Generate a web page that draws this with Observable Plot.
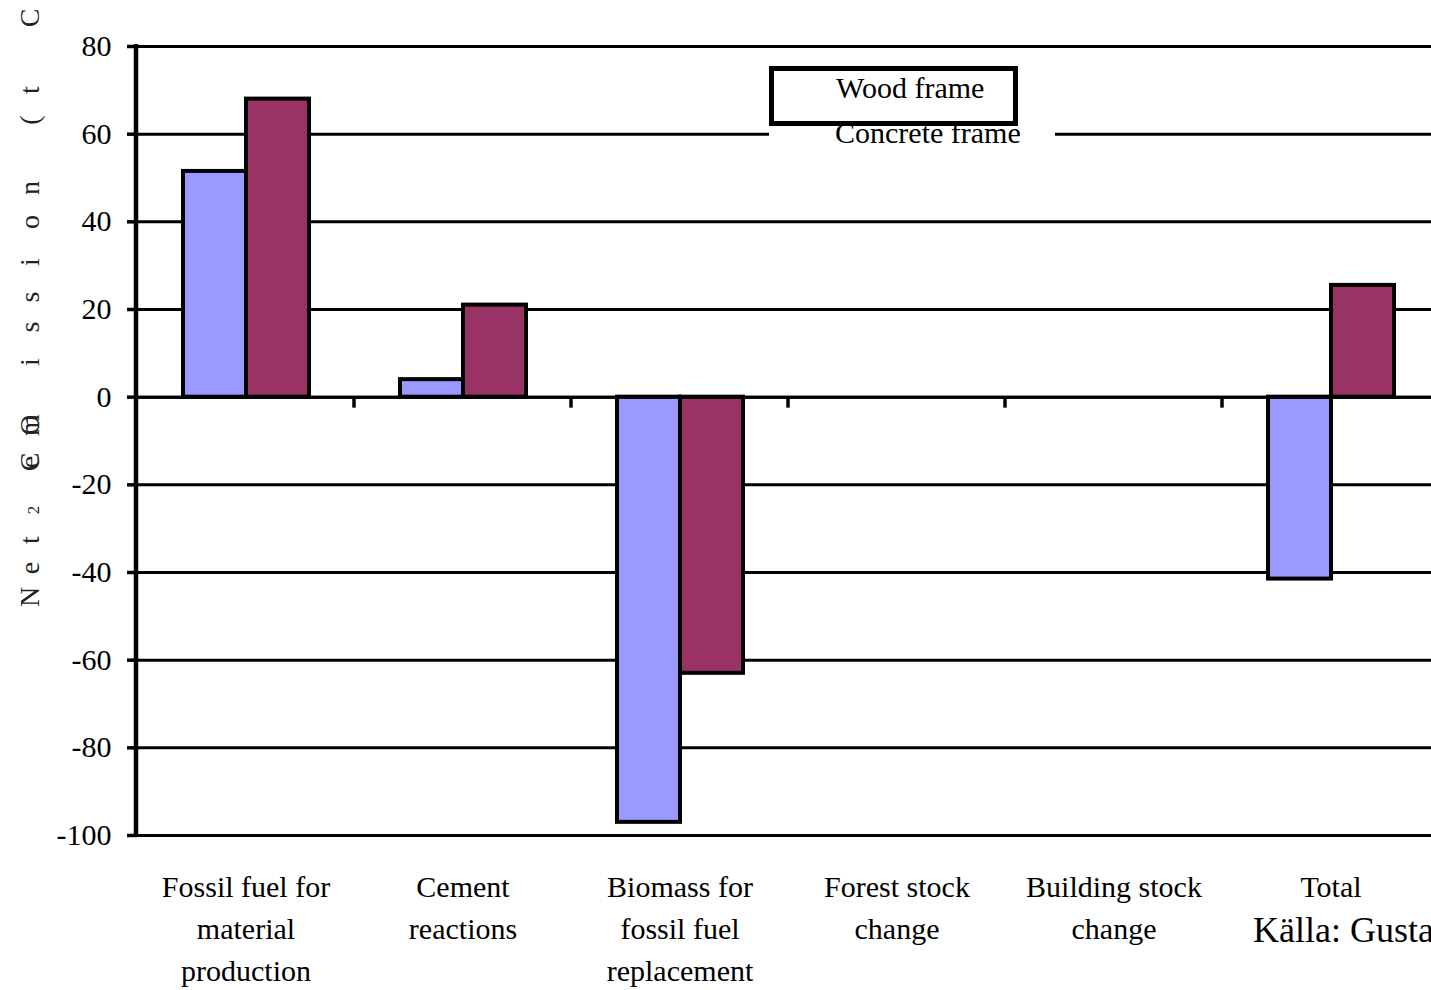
<!DOCTYPE html>
<html><head><meta charset="utf-8">
<script src="https://cdn.jsdelivr.net/npm/d3@7"></script>
<script src="https://cdn.jsdelivr.net/npm/@observablehq/plot@0.6"></script>
<style>
html,body{margin:0;padding:0;overflow:hidden;background:#fff;width:1431px;height:990px}
#wrap{position:relative;width:1460px;height:990px}
#wrap svg{display:block}
#legend{position:absolute;left:769px;top:62px;width:286px;height:88px;background:#fff;font-family:"Liberation Serif",serif;font-size:30px;color:#000}
#legend .conc{position:absolute;left:66px;top:56px;line-height:1;white-space:nowrap}
#legend .box{position:absolute;left:0;top:4px;width:239px;height:50px;border:5px solid #000;background:#fff}
#legend .wood{position:absolute;left:62px;top:2px;line-height:1;white-space:nowrap}
#source{position:absolute;left:1253px;top:912px;font-family:"Liberation Serif",serif;font-size:36px;line-height:1;white-space:nowrap;color:#000}
</style></head><body><div id="wrap"></div>
<script>
const categories = ["Fossil fuel for\nmaterial\nproduction","Cement\nreactions","Biomass for\nfossil fuel\nreplacement","Forest stock\nchange","Building stock\nchange","Total"];
const series = ["Wood frame","Concrete frame"];
const woodValues = [51.5, 4, -97, 0, 0, -41.5];
const concreteValues = [68, 21, -63, 0, 0, 25.5];
const yTicks = [-100, -80, -60, -40, -20, 0, 20, 40, 60, 80];
const seriesColors = ["#9999FF", "#993366"];
const sourceText = "Källa: Gustavsson";
const yLabelChars = [["N",597],["e",568],["t",540],["2",510,true],["C",462],["e",462],["O",425],["m",425],["i",362],["s",327],["s",297],["i",262],["o",222],["n",188],["(",120],["t",90],["C",18]];

const data = categories.flatMap((c, i) => [
  {category: c, series: series[0], value: woodValues[i]},
  {category: c, series: series[1], value: concreteValues[i]}
]);
const grid = categories.flatMap(c => yTicks.map(t => ({category: c, tick: t})));

const plot = Plot.plot({
  width: 1460, height: 990,
  marginLeft: 134, marginRight: 19, marginTop: 46, marginBottom: 155,
  style: {fontFamily: '"Liberation Serif", "Times New Roman", serif', fontSize: "28px", color: "#000", background: "#fff"},
  fx: {domain: categories, padding: 0, label: null},
  x: {domain: series, paddingInner: 0, paddingOuter: 0.71, axis: null},
  y: {domain: [-100, 80], label: null},
  color: {domain: series, range: seriesColors},
  marks: [
    Plot.ruleY(grid, {fx: "category", y: "tick", stroke: "#000", strokeWidth: 3}),
    Plot.barY(data.filter(d => d.value !== 0), {fx: "category", x: "series", y: "value", fill: "series", stroke: "#000", strokeWidth: 4}),
    Plot.ruleY(grid.filter(d => d.tick === 0), {fx: "category", y: "tick", stroke: "#000", strokeWidth: 3}),
    Plot.axisY({ticks: yTicks, tickSize: 10, tickPadding: 16, tickFormat: d => String(d), strokeWidth: 3.5, label: null, fontSize: 30}),
    Plot.axisFx({anchor: "bottom", tickSize: 0, tickPadding: 32, lineHeight: 1.4, fontSize: 30, label: null})
  ]
});
document.getElementById("wrap").appendChild(plot);

const fx = plot.scale("fx"), y = plot.scale("y");
const svg = d3.select(plot);
const x0 = fx.apply(categories[0]);
svg.append("line").attr("x1", x0 - 1).attr("x2", x0 - 1)
  .attr("y1", y.apply(80) - 2).attr("y2", y.apply(-100) + 2)
  .attr("stroke", "#000").attr("stroke-width", 4.5);
categories.slice(1).forEach(c => {
  const xx = fx.apply(c);
  svg.append("line").attr("x1", xx).attr("x2", xx)
    .attr("y1", y.apply(0)).attr("y2", y.apply(0) + 11)
    .attr("stroke", "#000").attr("stroke-width", 3.5);
});
const g = svg.append("g").attr("font-family", '"Liberation Serif", serif').attr("fill", "#222");
yLabelChars.forEach(([ch, yy, small]) => {
  g.append("text").attr("transform", `translate(${small ? 33 : 29},${yy}) rotate(-90)`)
    .attr("text-anchor", "middle").attr("dominant-baseline", "central")
    .attr("font-size", small ? 17 : 28).text(ch);
});

const legend = document.createElement("div");
legend.id = "legend";
legend.innerHTML = `<div class="conc">${series[1]}</div><div class="box"><div class="wood">${series[0]}</div></div>`;
document.getElementById("wrap").appendChild(legend);
const src = document.createElement("div");
src.id = "source"; src.textContent = sourceText;
document.getElementById("wrap").appendChild(src);
</script>
</body></html>
